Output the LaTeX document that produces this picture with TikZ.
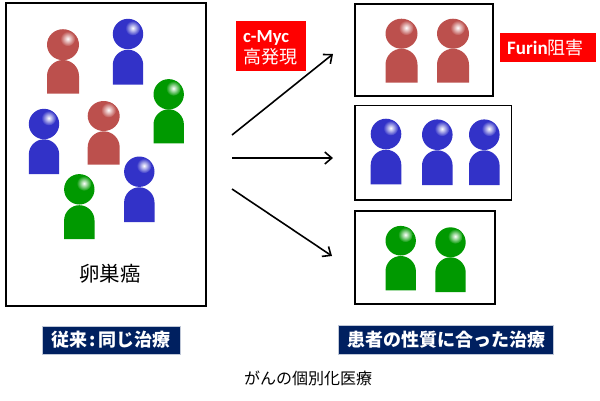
\documentclass[tikz,border=0pt]{standalone}
\usepackage{fontspec}
\setmainfont{Noto Sans CJK JP}
\newfontfamily\latinbold[BoldFont=Carlito Bold]{Carlito}
\definecolor{pred}{HTML}{BC504D}
\definecolor{pblue}{HTML}{3232C8}
\definecolor{pgreen}{HTML}{009900}
\definecolor{navy}{HTML}{002060}
\usetikzlibrary{arrows.meta}
\tikzset{
  panel/.style={draw=black,line width=1.7pt,fill=white,inner sep=0pt,rectangle},
  redlabel/.style={fill=red,inner sep=0pt,rectangle},
  redtext/.style={text=white,inner sep=0pt,anchor=base west},
  navylabel/.style={fill=navy,draw=navy!25!white,line width=.4pt,text=white,inner sep=0pt,rectangle,font=\fontsize{18}{20}\selectfont\bfseries},
  flow/.style={draw=black,line width=1.6pt,-{Straight Barb[length=7pt,width=12pt,line width=1.6pt]}}
}
% centre x, head y, head rx, head ry, body top, body bottom, half width, colour
\newcommand{\person}[8]{%
  \begin{scope}[shift={(#1,#2)}]
    \fill[#8] (0,0) ellipse [x radius=#3pt,y radius=#4pt];
    \shade[inner color=white,outer color=#8] (4.7,-6) circle (7.5pt);
  \end{scope}
  \fill[#8] (#1-#7,#6) -- (#1-#7,#5+#7)
    .. controls (#1-#7,#5+#7*0.45) and (#1-#7*0.55,#5) .. (#1,#5)
    .. controls (#1+#7*0.55,#5) and (#1+#7,#5+#7*0.45) .. (#1+#7,#5+#7)
    -- (#1+#7,#6) -- cycle;
}
\begin{document}
\begin{tikzpicture}[x=1pt,y=-1pt]
\useasboundingbox (0,0) rectangle (600,400);
\fill[white] (0,0) rectangle (600,400);
% panels
\node[panel,minimum width=200pt,minimum height=303pt] (cohort) at (106,154.5) {};
\node[panel,minimum width=138.5pt,minimum height=92.5pt] (redbox) at (424,50) {};
\node[panel,minimum width=156.5pt,minimum height=94.5pt] (bluebox) at (433.3,152.7) {};
\node[panel,minimum width=140pt,minimum height=93pt] (greenbox) at (425,257.3) {};
% left group
\person{63}{44.7}{16}{15.5}{60}{93.7}{16}{pred}
\person{128}{34}{15.2}{15.2}{49.7}{84.7}{15.2}{pblue}
\person{168.7}{94.3}{15.2}{15.2}{109.3}{143.3}{15.2}{pgreen}
\person{44}{124}{15.2}{15.2}{139.3}{174}{15.2}{pblue}
\person{103.7}{116}{16}{15}{131.3}{164.7}{16}{pred}
\person{139.3}{171.7}{15.2}{15.2}{187.3}{222}{15.2}{pblue}
\person{79.3}{189.3}{15.2}{15.2}{205.2}{239}{15.2}{pgreen}
% right groups
\person{401.5}{33.7}{16}{15}{48.7}{82.7}{16}{pred}
\person{453}{33.7}{16}{15}{48.7}{82.7}{16}{pred}
\person{386}{134}{15.3}{15.3}{149.7}{184.3}{15.3}{pblue}
\person{437.3}{134.7}{15.3}{15.3}{150.3}{185}{15.3}{pblue}
\person{484.3}{134.7}{15.3}{15.3}{150.3}{185}{15.3}{pblue}
\person{400.7}{240.7}{15.2}{14.8}{256}{290.3}{15.2}{pgreen}
\person{450.5}{242.3}{15.2}{15}{257.3}{292}{15.2}{pgreen}
% arrows
\coordinate (fan1) at (232,135);
\coordinate (fan2) at (232,158);
\coordinate (fan3) at (232,189);
\coordinate (tip1) at (333,54);
\coordinate (tip2) at (333,158);
\coordinate (tip3) at (332,256);
\draw[flow] (fan1) -- (tip1);
\draw[flow] (fan2) -- (tip2);
\draw[flow] (fan3) -- (tip3);
% labels
\node[redlabel,minimum width=69.5pt,minimum height=50.5pt] (myc) at (271,46.2) {};
\node[redtext,font=\fontsize{18.5}{20}\latinbold\bfseries] (myctext) at (243,42) {c-Myc};
\node[redtext,font=\fontsize{18}{20}\selectfont] (high) at (243,63) {高発現};
\node[redlabel,minimum width=96.5pt,minimum height=29pt] (furin) at (548,47.8) {};
\node[redtext,font=\fontsize{18}{20}\selectfont] (furintext) at (507,54)
  {{\fontsize{19}{20}\latinbold\bfseries Furin}阻害};
\node[font=\fontsize{20.5}{24}\selectfont] (ovary) at (110,274) {卵巣癌};
\node[navylabel,minimum width=138pt,minimum height=28.5pt] (same) at (111,340) {従来\hspace{2.5pt}:\hspace{2.5pt}同じ治療};
\node[navylabel,minimum width=215pt,minimum height=29pt] (fit) at (446,339.2) {患者の性質に合った治療};
\node[font=\fontsize{16}{18}\selectfont] (title) at (308,378) {がんの個別化医療};
\end{tikzpicture}
\end{document}
